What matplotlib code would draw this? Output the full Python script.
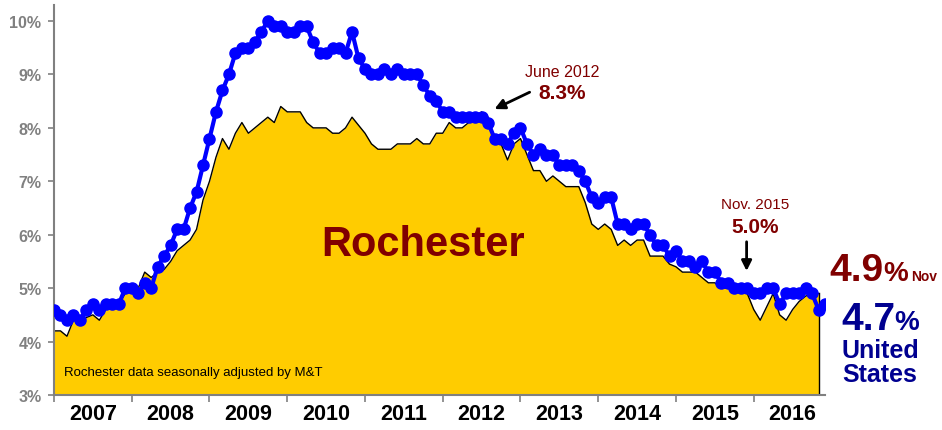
import matplotlib
matplotlib.use("Agg")
import matplotlib.pyplot as plt

plt.rcParams["font.family"] = ["Liberation Sans", "DejaVu Sans"]

# monthly unemployment rate, Jan 2007 ...
ROCHESTER = [
    4.2, 4.2, 4.1, 4.4, 4.4, 4.45, 4.5, 4.4, 4.6, 4.7, 4.7, 4.9,        # 2007
    5.0, 5.0, 5.3, 5.2, 5.3, 5.35, 5.5, 5.7, 5.8, 5.9, 6.1, 6.65,       # 2008
    7.0, 7.45, 7.8, 7.6, 7.9, 8.1, 7.9, 8.0, 8.1, 8.2, 8.1, 8.4,        # 2009
    8.3, 8.3, 8.3, 8.1, 8.0, 8.0, 8.0, 7.9, 7.9, 8.0, 8.2, 8.05,        # 2010
    7.9, 7.7, 7.6, 7.6, 7.6, 7.7, 7.7, 7.7, 7.8, 7.7, 7.7, 7.9,         # 2011
    7.9, 8.1, 8.0, 8.0, 8.1, 8.2, 8.3, 8.2, 7.8, 7.7, 7.4, 7.7,         # 2012
    7.8, 7.5, 7.2, 7.2, 7.0, 7.1, 7.0, 6.9, 6.9, 6.9, 6.6, 6.2,         # 2013
    6.1, 6.2, 6.1, 5.8, 5.9, 5.8, 5.9, 5.9, 5.6, 5.6, 5.6, 5.45,        # 2014
    5.4, 5.3, 5.3, 5.3, 5.2, 5.1, 5.1, 5.0, 5.0, 5.0, 5.0, 4.9,         # 2015
    4.6, 4.4, 4.65, 4.9, 4.5, 4.4, 4.6, 4.75, 4.85, 4.9, 4.9,           # 2016 (to Nov)
]
US = [
    4.6, 4.5, 4.4, 4.5, 4.4, 4.6, 4.7, 4.6, 4.7, 4.7, 4.7, 5.0,
    5.0, 4.9, 5.1, 5.0, 5.4, 5.6, 5.8, 6.1, 6.1, 6.5, 6.8, 7.3,
    7.8, 8.3, 8.7, 9.0, 9.4, 9.5, 9.5, 9.6, 9.8, 10.0, 9.9, 9.9,
    9.8, 9.8, 9.9, 9.9, 9.6, 9.4, 9.4, 9.5, 9.5, 9.4, 9.8, 9.3,
    9.1, 9.0, 9.0, 9.1, 9.0, 9.1, 9.0, 9.0, 9.0, 8.8, 8.6, 8.5,
    8.3, 8.3, 8.2, 8.2, 8.2, 8.2, 8.2, 8.1, 7.8, 7.8, 7.7, 7.9,
    8.0, 7.7, 7.5, 7.6, 7.5, 7.5, 7.3, 7.3, 7.3, 7.2, 7.0, 6.7,
    6.6, 6.7, 6.7, 6.2, 6.2, 6.1, 6.2, 6.2, 6.0, 5.8, 5.8, 5.6,
    5.7, 5.5, 5.5, 5.4, 5.5, 5.3, 5.3, 5.1, 5.1, 5.0, 5.0, 5.0,
    4.9, 4.9, 5.0, 5.0, 4.7, 4.9, 4.9, 4.9, 5.0, 4.9, 4.6, 4.7,
]
YEARS = ["2007", "2008", "2009", "2010", "2011", "2012", "2013", "2014", "2015", "2016"]
Y_TICKS = [3, 4, 5, 6, 7, 8, 9, 10]

DARK_RED = "#800000"
NAVY = "#000090"
W, H = 942, 431

fig = plt.figure(figsize=(W / 100, H / 100), dpi=100)
ax = fig.add_axes([54 / W, 1 - 396 / H, (825 - 54) / W, (396 - 6) / H])

xr = list(range(len(ROCHESTER)))
xu = list(range(len(US)))
ax.fill_between(xr, 3, ROCHESTER, color="#FFCC00", lw=0, zorder=1)
ax.plot(xr, ROCHESTER, color="black", lw=1.0, zorder=2)
ax.plot([xr[-1], xr[-1]], [3, ROCHESTER[-1]], color="black", lw=1.0, zorder=2)
ax.plot(xu, US, color="#0000FF", lw=3, marker="o", ms=8, zorder=3)

ax.set_xlim(0, len(US) - 1)
ax.set_ylim(3, 10.3)
ax.set_yticks(Y_TICKS)
ax.set_yticklabels([f"{v}%" for v in Y_TICKS])
ax.tick_params(axis="y", colors="#808080", length=4, width=1.2, pad=5,
               labelsize=11.5)
for lab in ax.get_yticklabels():
    lab.set_fontweight("bold")

ax.set_xticks([12 * i for i in range(len(YEARS))])
ax.set_xticklabels([])
ax.set_xticks([12 * i + 6 for i in range(len(YEARS))], minor=True)
ax.set_xticklabels(YEARS, minor=True, fontsize=15.5, fontweight="bold")
ax.tick_params(axis="x", which="major", color="#808080", length=5, width=1.2)
ax.tick_params(axis="x", which="minor", length=0, pad=6)

for s in ["top", "right"]:
    ax.spines[s].set_visible(False)
for s in ["left", "bottom"]:
    ax.spines[s].set_color("#808080")
    ax.spines[s].set_linewidth(1.5)

# in-plot labels
ax.text(56.9, 5.83, "Rochester", fontsize=30, fontweight="bold", color=DARK_RED,
        ha="center", va="center", zorder=4)
ax.text(1.5, 3.43, "Rochester data seasonally adjusted by M&T", fontsize=9.5,
        ha="left", va="center", zorder=4)

ax.text(78.4, 9.05, "June 2012", fontsize=11.5, color=DARK_RED, ha="center", va="center")
ax.text(78.4, 8.67, "8.3%", fontsize=15, fontweight="bold", color=DARK_RED,
        ha="center", va="center")
ax.annotate("", xy=(67.6, 8.33), xytext=(73.8, 8.69),
            arrowprops=dict(arrowstyle="-|>,head_length=0.6,head_width=0.3",
                            color="black", lw=2))

ax.text(108.2, 6.58, "Nov. 2015", fontsize=11, color=DARK_RED, ha="center", va="center")
ax.text(108.2, 6.15, "5.0%", fontsize=15, fontweight="bold", color=DARK_RED,
        ha="center", va="center")
ax.annotate("", xy=(106.9, 5.27), xytext=(106.9, 5.92),
            arrowprops=dict(arrowstyle="-|>,head_length=0.6,head_width=0.3",
                            color="black", lw=2))

# right-hand labels
def ftext(x, y, s, **kw):
    fig.text(x / W, 1 - y / H, s, va="baseline", fontweight="bold", **kw)

ftext(829, 281, "4.9", fontsize=28, color=DARK_RED)
ftext(883, 281, "%", fontsize=20, color=DARK_RED)
ftext(911, 281, "Nov", fontsize=10, color=DARK_RED)
ftext(841, 330, "4.7", fontsize=28, color=NAVY)
ftext(894, 330, "%", fontsize=20, color=NAVY)
ftext(880, 358, "United", fontsize=18, color=NAVY, ha="center")
ftext(880, 382, "States", fontsize=18, color=NAVY, ha="center")

fig.savefig("out.png", dpi=100)
